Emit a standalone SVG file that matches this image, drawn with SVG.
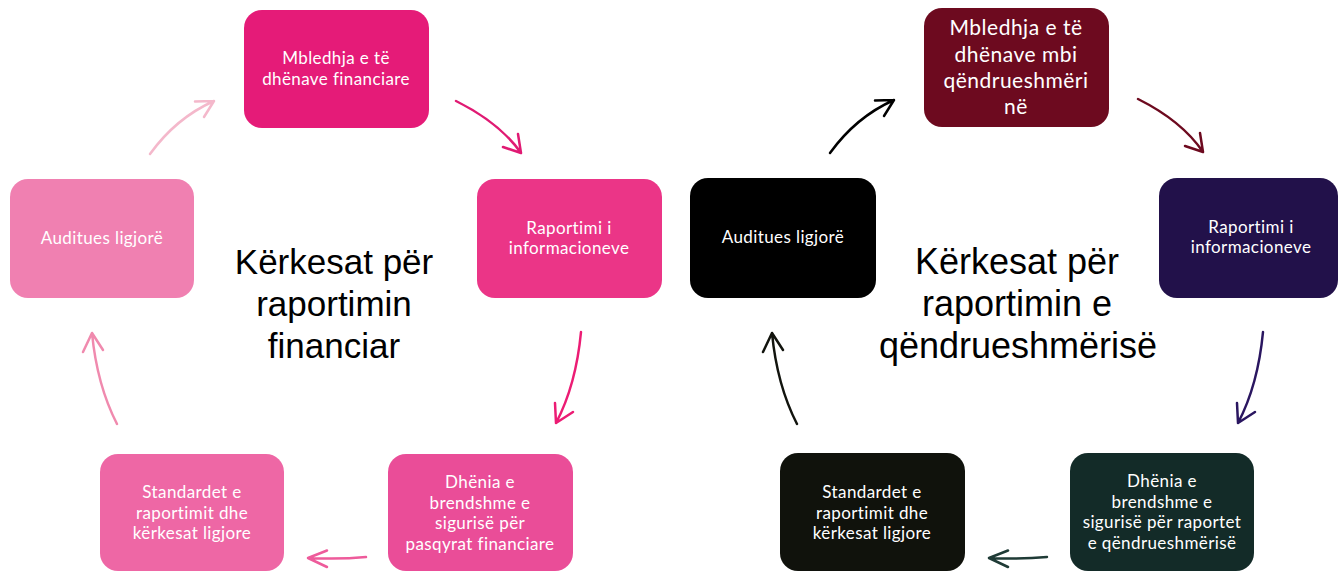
<svg xmlns="http://www.w3.org/2000/svg" width="1338" height="571" viewBox="0 0 1338 571">
<style>
.n text{font-family:Lato,"Open Sans",sans-serif;font-size:17px;letter-spacing:0.4px;fill:#fff;text-anchor:middle}
.n text.l{font-size:21px;letter-spacing:0.5px}
.big{font-family:"Liberation Sans",Arial,sans-serif;fill:#000;text-anchor:middle}
#connectors path{fill:none;stroke-width:2.5;stroke-linecap:round;stroke-linejoin:round}
</style>
<rect width="1338" height="571" fill="#fff"/>
<g id="connectors">
<path d="M150,154 Q176,118 214,101 M195,101.5 L214,101 L204,117" stroke="#F4B8CB"/>
<path d="M456,101 Q500,123 521,153 M503,147 L521,153 L518,134" stroke="#E01A73"/>
<path d="M581,332 Q576,385 556,423 M555,403 L556,423 L573,412" stroke="#EC1C74"/>
<path d="M366,557 Q340,559.5 308,558 M327,550.5 L308,558 L327,567" stroke="#EE5B9B"/>
<path d="M117,424 Q97,385 92,333 M83,352 L92,333 L103,350" stroke="#F08AAE"/>
<path d="M830,153 Q856,117 894,100 M875,100.5 L894,100 L884,116" stroke="#000000"/>
<path d="M1138,99 Q1182,121 1203,152 M1185,146 L1203,152 L1200,133" stroke="#6D0A1F"/>
<path d="M1263,332 Q1258,385 1238,423 M1237,403 L1238,423 L1255,412" stroke="#2A1660"/>
<path d="M1047,557 Q1021,559.5 989,558 M1008,550.5 L989,558 L1008,567" stroke="#1F3B36"/>
<path d="M797,424 Q777,385 772,333 M763,352 L772,333 L783,350" stroke="#12140E"/>
</g>
<g id="n1" class="n"><rect x="244" y="10" width="185" height="118" rx="18" fill="#E51B78"/><text x="336" y="64">Mbledhja e të</text><text x="336" y="85">dhënave financiare</text></g>
<g id="n2" class="n"><rect x="477" y="179" width="185" height="119" rx="18" fill="#EB3587"/><text x="569" y="234">Raportimi i</text><text x="569" y="254">informacioneve</text></g>
<g id="n3" class="n"><rect x="388" y="454" width="185" height="117" rx="18" fill="#EA4D98"/><text x="480" y="488">Dhënia e</text><text x="480" y="508.5">brendshme e</text><text x="480" y="529">sigurisë për</text><text x="480" y="549.5">pasqyrat financiare</text></g>
<g id="n4" class="n"><rect x="100" y="454" width="184" height="117" rx="18" fill="#EE67A5"/><text x="192" y="498">Standardet e</text><text x="192" y="518.5">raportimit dhe</text><text x="192" y="539">kërkesat ligjore</text></g>
<g id="n5" class="n"><rect x="10" y="179" width="184" height="119" rx="18" fill="#F080B1"/><text x="102" y="244">Auditues ligjorë</text></g>
<g id="t1" class="big" font-size="35"><text x="334" y="274">Kërkesat për</text><text x="334" y="316">raportimin</text><text x="334" y="358">financiar</text></g>
<g id="m1" class="n"><rect x="924" y="8" width="185" height="119" rx="18" fill="#6D0A1F"/><text class="l" x="1016" y="35">Mbledhja e të</text><text class="l" x="1016" y="62">dhënave mbi</text><text class="l" x="1016" y="88">qëndrueshmëri</text><text class="l" x="1016" y="114">në</text></g>
<g id="m2" class="n"><rect x="1159" y="178" width="179" height="120" rx="18" fill="#22114A"/><text x="1251" y="233">Raportimi i</text><text x="1251" y="253">informacioneve</text></g>
<g id="m3" class="n"><rect x="1070" y="453" width="184" height="118" rx="18" fill="#132B28"/><text x="1162" y="487">Dhënia e</text><text x="1162" y="507.5">brendshme e</text><text x="1162" y="528">sigurisë për raportet</text><text x="1162" y="548.5">e qëndrueshmërisë</text></g>
<g id="m4" class="n"><rect x="780" y="453" width="185" height="118" rx="18" fill="#10120C"/><text x="872" y="498">Standardet e</text><text x="872" y="518.5">raportimit dhe</text><text x="872" y="539">kërkesat ligjore</text></g>
<g id="m5" class="n"><rect x="690" y="178" width="186" height="120" rx="18" fill="#000000"/><text x="783" y="243">Auditues ligjorë</text></g>
<g id="t2" class="big" font-size="36"><text x="1017" y="274">Kërkesat për</text><text x="1017" y="316">raportimin e</text><text x="1018" y="358">qëndrueshmërisë</text></g>
</svg>
